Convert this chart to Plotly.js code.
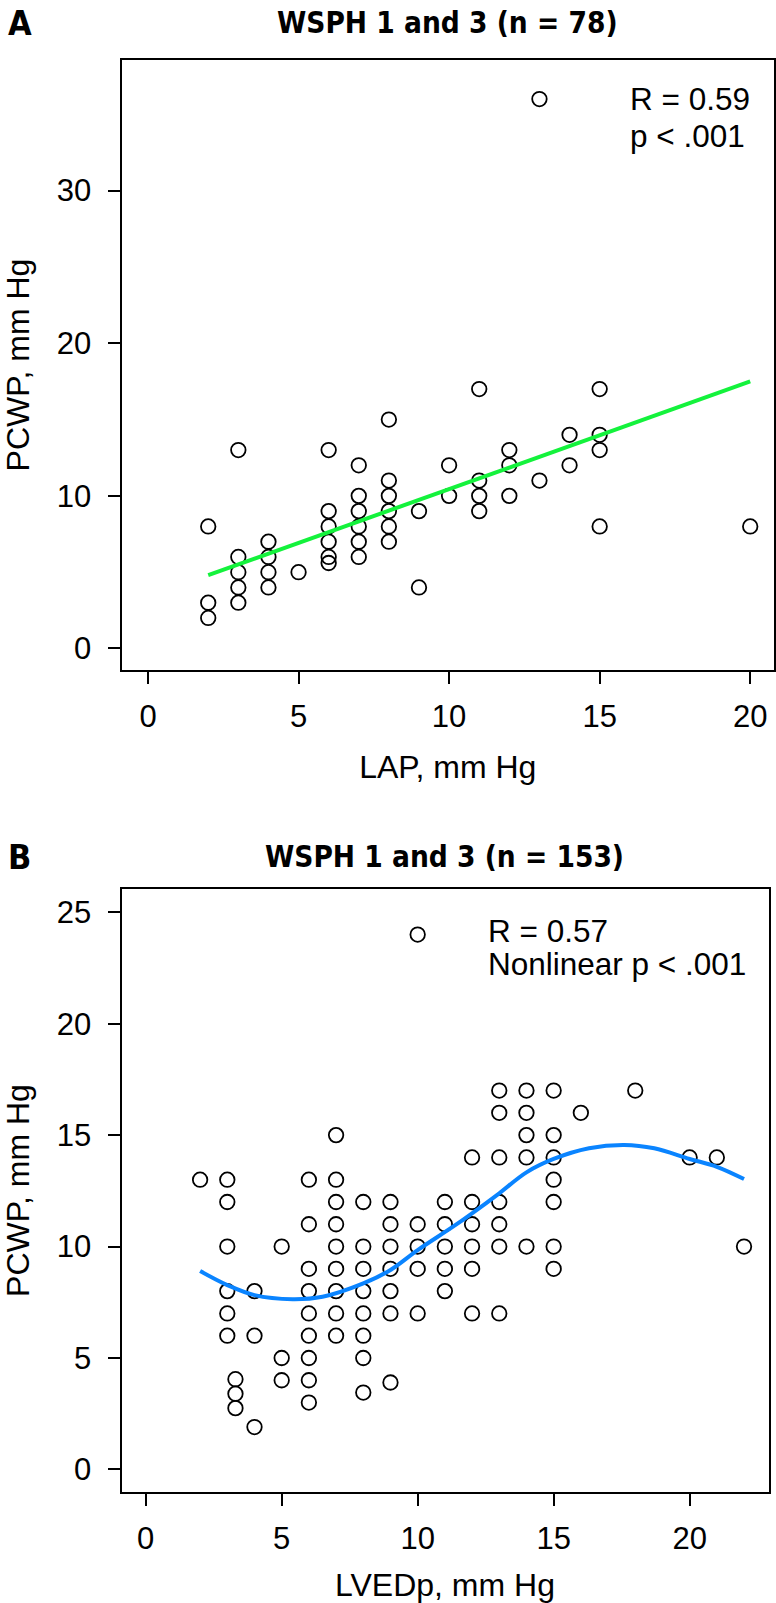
<!DOCTYPE html>
<html>
<head>
<meta charset="utf-8">
<script src="https://cdn.plot.ly/plotly-3.0.1.min.js"></script>
<style>
  html, body { margin: 0; padding: 0; background: #fff; }
  #chart { width: 776px; height: 1603px; }
</style>
</head>
<body>
<div id="chart"></div>
<script>
// ---------- Panel A data: LAP vs PCWP ----------
const lapA  = [2,2,2, 3,3,3,3,3, 4,4,4,4, 5, 6,6,6,6,6,6, 7,7,7,7,7,7, 8,8,8,8,8,8, 9,9, 10,10, 11,11,11,11, 12,12,12, 13,13, 14,14, 15,15,15,15, 20];
const pcwpA = [8,3,2, 13,6,5,4,3, 7,6,5,4, 5, 13,9,8,7,6,5.6, 12,10,9,8,7,6, 15,11,10,9,8,7, 9,4, 12,10, 17,11,10,9, 13,12,10, 11,36, 14,12, 17,14,13,8, 8];
const fitLapA  = [2, 20];
const fitPcwpA = [4.8, 17.5];

// ---------- Panel B data: LVEDp vs PCWP ----------
const lvedpB = [2,
  3,3,3,3,3,3, 3.3,3.3,3.3,
  4,4,4, 5,5,5,
  6,6,6,6,6,6,6,6,6,
  7,7,7,7,7,7,7,7,7,
  8,8,8,8,8,8,8,8,
  9,9,9,9,9,9,9,
  10,10,10,10,10,
  11,11,11,11,11,
  12,12,12,12,12,12,
  13,13,13,13,13,13,13,
  14,14,14,14,14,
  15,15,15,15,15,15,15,
  16, 18, 20, 21, 22];
const pcwpB = [13,
  13,12,10,8,7,6, 4.05,3.4,2.75,
  8,6,1.9, 10,5,4,
  13,11,9,8,7,6,5,4,3,
  15,13,12,11,10,9,8,7,6,
  12,10,9,8,7,6,5,3.45,
  12,11,10,9,8,7,3.9,
  24,11,10,9,7,
  12,11,10,9,8,
  14,12,11,10,9,7,
  17,16,14,12,11,10,7,
  17,16,15,14,10,
  17,15,14,13,12,10,9,
  16, 17, 14, 14, 10];
const curveLvedpB = [2, 3, 4, 5.4, 6.5, 8, 9, 10, 11.3, 12, 13, 14, 15, 16.3, 17.6, 18.7, 20, 21, 22];
const curvePcwpB  = [8.9, 8.27, 7.82, 7.64, 7.75, 8.35, 8.95, 9.84, 10.89, 11.49, 12.39, 13.33, 13.93, 14.41, 14.56, 14.41, 13.93, 13.58, 13.03];

// ---------- tick labels ----------
const xTicksA = [0, 5, 10, 15, 20];
const yTicksA = [0, 10, 20, 30];
const xTicksB = [0, 5, 10, 15, 20];
const yTicksB = [0, 5, 10, 15, 20, 25];

const titleA = 'WSPH 1 and 3 (n = 78)';
const titleB = 'WSPH 1 and 3 (n = 153)';

// ---------- styling ----------
const REG = 'Liberation Sans, Arial, Helvetica, sans-serif';
const NARROW = 'Liberation Sans Narrow, Arial Narrow, DejaVu Sans Condensed, sans-serif';
const W = 776, H = 1603;
const px = v => v / W;
const py = v => 1 - v / H;

const markerStyle = { symbol: 'circle-open', size: 14.5, color: '#000', line: { width: 1.8, color: '#000' } };

const traces = [
  { x: lapA, y: pcwpA, type: 'scatter', mode: 'markers', marker: markerStyle, xaxis: 'x', yaxis: 'y' },
  { x: fitLapA, y: fitPcwpA, type: 'scatter', mode: 'lines', line: { color: '#14f23c', width: 4 }, xaxis: 'x', yaxis: 'y' },
  { x: lvedpB, y: pcwpB, type: 'scatter', mode: 'markers', marker: markerStyle, xaxis: 'x2', yaxis: 'y2' },
  { x: curveLvedpB, y: curvePcwpB, type: 'scatter', mode: 'lines', line: { color: '#0a84ff', width: 4, shape: 'spline', smoothing: 1 }, xaxis: 'x2', yaxis: 'y2' }
];

function axis(extra) {
  return Object.assign({
    showgrid: false, zeroline: false,
    showline: true, linecolor: '#000', linewidth: 2, mirror: true,
    ticks: 'outside', ticklen: 12, tickwidth: 2, tickcolor: '#000',
    tickmode: 'array',
    tickfont: { family: REG, size: 31, color: '#000' },
    fixedrange: true
  }, extra);
}

const axTitleFont = { family: REG, size: 32, color: '#000' };

const layout = {
  width: W, height: H,
  margin: { l: 0, r: 0, t: 0, b: 0 },
  paper_bgcolor: '#fff', plot_bgcolor: '#fff',
  showlegend: false,
  xaxis: axis({ domain: [px(121.5), px(774)], range: [-0.88, 20.79], tickvals: xTicksA, anchor: 'y', ticklabelstandoff: 6,
    title: { text: 'LAP, mm Hg', font: axTitleFont, standoff: 22 } }),
  yaxis: axis({ domain: [py(670), py(60)], range: [-1.41, 38.56], tickvals: yTicksA, anchor: 'x', ticklabelstandoff: 10,
    title: { text: 'PCWP, mm Hg', font: axTitleFont, standoff: 20 } }),
  xaxis2: axis({ domain: [px(121.5), px(768.5)], range: [-0.89, 22.9], tickvals: xTicksB, anchor: 'y2', ticklabelstandoff: 6,
    title: { text: 'LVEDp, mm Hg', font: axTitleFont, standoff: 22 } }),
  yaxis2: axis({ domain: [py(1491.7), py(889.3)], range: [-1.0, 26.03], tickvals: yTicksB, anchor: 'x2', ticklabelstandoff: 10,
    title: { text: 'PCWP, mm Hg', font: axTitleFont, standoff: 20 } }),
  annotations: [
    { text: titleA, xref: 'paper', yref: 'paper', x: px(448), y: py(23), xanchor: 'center', yanchor: 'middle', showarrow: false,
      font: { family: NARROW, size: 29.5, weight: 'bold', color: '#000' } },
    { text: 'A', xref: 'paper', yref: 'paper', x: px(6), y: py(23), xanchor: 'left', yanchor: 'middle', showarrow: false,
      font: { family: NARROW, size: 34, weight: 'bold', color: '#000' } },
    { text: titleB, xref: 'paper', yref: 'paper', x: px(445), y: py(857), xanchor: 'center', yanchor: 'middle', showarrow: false,
      font: { family: NARROW, size: 29.5, weight: 'bold', color: '#000' } },
    { text: 'B', xref: 'paper', yref: 'paper', x: px(6), y: py(857), xanchor: 'left', yanchor: 'middle', showarrow: false,
      font: { family: NARROW, size: 34, weight: 'bold', color: '#000' } },
    { text: 'R = 0.59', xref: 'x', yref: 'y', x: 15.95, y: 36.03, xanchor: 'left', yanchor: 'middle', showarrow: false,
      font: { family: REG, size: 31.5, color: '#000' } },
    { text: 'p &lt; .001', xref: 'x', yref: 'y', x: 15.95, y: 33.6, xanchor: 'left', yanchor: 'middle', showarrow: false,
      font: { family: REG, size: 31.5, color: '#000' } },
    { text: 'R = 0.57', xref: 'x2', yref: 'y2', x: 12.5, y: 24.16, xanchor: 'left', yanchor: 'middle', showarrow: false,
      font: { family: REG, size: 31.5, color: '#000' } },
    { text: 'Nonlinear p &lt; .001', xref: 'x2', yref: 'y2', x: 12.5, y: 22.7, xanchor: 'left', yanchor: 'middle', showarrow: false,
      font: { family: REG, size: 31.5, color: '#000' } }
  ]
};

Plotly.newPlot('chart', traces, layout, { displayModeBar: false, staticPlot: true });
</script>
</body>
</html>
